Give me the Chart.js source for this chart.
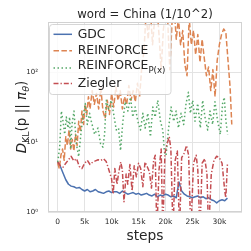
<!DOCTYPE html>
<html><head><meta charset="utf-8">
<script src="https://cdn.jsdelivr.net/npm/chart.js@4/dist/chart.umd.min.js"></script>
<style>html,body{margin:0;padding:0;background:#fff;}canvas{display:block;}</style>
</head><body>
<canvas id="c" width="251" height="251"></canvas>
<script>
const titleText = 'word = China (1/10^2)';
const xLabel = 'steps';
const xTicks = [0,5000,10000,15000,20000,25000,30000];
const xTickLabels = ['0','5k','10k','15k','20k','25k','30k'];
const yTicks = [1,10,100];
const yTickLabels = ['10⁰','10¹','10²'];
const seriesNames = ['GDC','REINFORCE','REINFORCE','Ziegler'];
const seriesSubs = ['','','P(x)',''];

const gdcSteps = [0,500,1000,1500,2000,2500,3000,3500,4000,4500,5000,5500,6000,6500,7000,7500,8000,8500,9000,9500,10000,10500,11000,11500,12000,12500,13000,13500,14000,14500,15000,15500,16000,16500,17000,17500,18000,18500,19000,19500,20000,20500,21000,21500,22000,22500,23000,23500,24000,24500,25000,25500,26000,26500,27000,27500,28000,28500,29000,29500,30000,30500,31000,31500];
const gdcValues = [5.2,4.5,3.6,2.9,2.5,2.35,2.3,2.2,2.25,2.1,2.0,2.1,1.95,2.0,2.1,1.95,1.9,1.85,1.95,2.0,1.9,1.95,1.95,1.85,2.0,1.9,1.8,1.85,1.9,1.8,1.85,1.75,1.8,1.85,1.75,1.7,1.8,1.65,1.75,1.7,1.8,1.75,1.65,1.7,1.6,2.7,2.0,1.8,1.7,1.65,1.6,1.65,1.7,1.6,1.65,1.55,1.6,1.5,1.45,1.35,1.45,1.5,1.45,1.58];

const reinfSteps = [0,300,600,900,1200,1500,1800,2100,2400,2700,3000,3300,3600,3900,4200,4500,4800,5100,5400,5700,6000,6400,6800,7200,7600,8000,8400,8800,9200,9600,10000,10400,10800,11200,11600,12000,12400,12800,13200,13600,14000,14400,14800,15200,15600,16000,16400,16800,17200,17600,18000,18400,18800,19200,19600,20000,20400,20800,21200,21600,22000,22400,22800,23200,23600,24000,24400,24800,25200,25600,26000,26400,26800,27200,27600,28000,28400,28800,29200,29600,30000,30400,30800,31200,31600,32000,32300];
const reinfValues = [5.0,4.2,6.5,8.0,5.5,12,9,15,8,11,7.5,13,9,20,14,28,18,35,25,45,30,55,35,50,30,60,28,22,40,25,50,32,62,40,55,30,45,35,65,40,55,38,70,45,120,200,700,300,800,250,600,900,350,110,400,800,600,110,500,900,300,600,250,400,130,90,600,250,400,180,350,140,300,160,90,120,55,110,45,150,250,350,420,380,150,60,18];

const reinfPxSteps = [0,370,680,990,1300,1600,1910,2220,2400,2650,3020,3460,3890,4380,4690,5120,5490,5920,6230,6850,7470,7960,8390,8700,9010,9440,9930,10370,10860,11290,11660,12090,12530,13020,13510,13940,14380,14870,15360,15800,16230,16720,17210,17650,18080,18570,19070,19500,19810,20110,20550,21040,21530,21970,22400,22890,23380,23820,24250,24620,25050,25480,25980,26470,26900,27330,27830,28260,28750,29180,29680,30170,30600,30910,31220,31530];
const reinfPxValues = [5.2,8.5,28,20,13,23,16,23,8,18,28,9.5,6.2,15,23,36,18,26,20,13,16,9.5,8.5,13,40,30,40,26,15,16,7.6,20,38,28,44,23,32,20,15,26,16,26,12,32,23,40,20,15,7.2,6.5,15,32,20,28,16,26,18,36,52,26,40,20,36,16,40,23,15,28,18,38,20,13,36,44,20,13];

const zieglerSteps = [0,500,1000,1500,2000,2500,3000,3500,4000,4500,5000,5500,6000,6500,7000,7500,8000,8500,9000,9500,10000,10300,10600,11000,11300,11700,12000,12300,12700,13000,13400,13800,14200,14600,15000,15400,15800,16200,16600,17000,17400,17800,18100,18400,18800,19200,19500,19900,20300,20700,21000,21400,21800,22200,22600,23000,23500,23900,24300,24700,25200,25700,26000,26400,26800,27300,27700,28000,28500,29000,29500,30000,30500,31000,31200,31500];
const zieglerValues = [5.2,4.6,4.4,5.0,5.6,6.3,5.4,5.8,4.5,4.2,5.0,5.5,4.8,5.2,5.4,5.6,5.5,5.8,5.3,4.0,3.0,1.8,4.2,2.5,3.6,5.2,4.0,1.4,3.5,2.5,4.8,2.0,4.6,3.2,5.0,4.2,2.3,5.2,4.5,3.8,2.2,5.5,6.5,0.5,4.0,8.0,0.5,7.0,9.5,12.0,8.0,0.5,5.5,7.5,0.5,6.0,7.0,9.0,6.5,0.5,5.0,6.5,4.0,0.5,5.0,5.8,3.5,0.5,3.5,5.5,6.3,6.0,5.0,2.0,1.6,5.0];

const colors = ['#4C72B0','#DD8452','#55A868','#C44E52'];
const dashes = [[],[5.5,2.4],[1.5,2.5],[5,2,1.3,2]];
const FONT = '"DejaVu Sans", sans-serif';

function pts(xs, ys){ return xs.map((x,i)=>({x:x, y:ys[i]})); }
const datasets = [
  {data: pts(gdcSteps, gdcValues), order: 3},
  {data: pts(reinfSteps, reinfValues), order: 2},
  {data: pts(reinfPxSteps, reinfPxValues), order: 1},
  {data: pts(zieglerSteps, zieglerValues), order: 0}
].map((d,i)=>Object.assign(d,{label: seriesNames[i]+seriesSubs[i], borderColor: colors[i], backgroundColor: colors[i], borderWidth:1.5, borderDash: dashes[i], pointRadius:0, fill:false, tension:0, borderCapStyle:'butt', borderJoinStyle:'round'}));

const decor = {
  id:'decor',
  afterDatasetsDraw(chart){
    const ctx = chart.ctx, a = chart.chartArea;
    ctx.save();
    ctx.strokeStyle = '#d2d2d2'; ctx.lineWidth = 1;
    ctx.strokeRect(Math.round(a.left)+0.5, Math.round(a.top)+0.5, Math.round(a.right-a.left)-1, Math.round(a.bottom-a.top)-1);
    const bx=49.5, by=24.5, bw=121.5, bh=70, r=3;
    ctx.beginPath();
    ctx.moveTo(bx+r,by); ctx.lineTo(bx+bw-r,by); ctx.quadraticCurveTo(bx+bw,by,bx+bw,by+r);
    ctx.lineTo(bx+bw,by+bh-r); ctx.quadraticCurveTo(bx+bw,by+bh,bx+bw-r,by+bh);
    ctx.lineTo(bx+r,by+bh); ctx.quadraticCurveTo(bx,by+bh,bx,by+bh-r);
    ctx.lineTo(bx,by+r); ctx.quadraticCurveTo(bx,by,bx+r,by); ctx.closePath();
    ctx.fillStyle = 'rgba(255,255,255,0.8)'; ctx.fill();
    ctx.strokeStyle = 'rgba(204,204,204,0.8)'; ctx.lineWidth=1; ctx.stroke();
    const handleY = [34.3, 50.7, 68, 83.5];
    const textY = [34.3, 50.7, 66, 83.5];
    for (let i=0;i<4;i++){
      ctx.beginPath();
      ctx.setLineDash(dashes[i]);
      ctx.strokeStyle = colors[i]; ctx.lineWidth = 1.5; ctx.lineCap='butt';
      ctx.moveTo(53.5, handleY[i]); ctx.lineTo(72, handleY[i]); ctx.stroke();
      ctx.setLineDash([]);
      ctx.fillStyle = '#262626';
      ctx.font = '12.4px ' + FONT; ctx.textAlign='left'; ctx.textBaseline='middle';
      ctx.fillText(seriesNames[i], 77.7, textY[i]);
      if (seriesSubs[i]){
        const w = ctx.measureText(seriesNames[i]).width;
        ctx.font = '8.6px ' + FONT;
        ctx.fillText(seriesSubs[i], 77.7 + w, textY[i] + 4.5);
      }
    }
    ctx.restore();
  },
  afterDraw(chart){
    const ctx = chart.ctx, a = chart.chartArea;
    ctx.save();
    ctx.fillStyle = '#262626';
    ctx.font = '11.7px ' + FONT; ctx.textAlign='center'; ctx.textBaseline='middle';
    ctx.fillText(titleText, (a.left+a.right)/2, 15);
    ctx.font = '13.8px ' + FONT;
    ctx.fillText(xLabel, (a.left+a.right)/2, 236);
    const S = 13.5, s = 9.5;
    const pieces = [
      {t:'D', f:'italic '+S+'px '+FONT, dy:0},
      {t:'KL', f:s+'px '+FONT, dy:3},
      {t:'(p || ', f:S+'px '+FONT, dy:0},
      {t:'π', f:'italic '+S+'px '+FONT, dy:0},
      {t:'θ', f:'italic '+s+'px '+FONT, dy:3},
      {t:')', f:S+'px '+FONT, dy:0}
    ];
    let tw = 0;
    pieces.forEach(p=>{ctx.font=p.f; p.w=ctx.measureText(p.t).width; tw+=p.w;});
    ctx.translate(26, (a.top+a.bottom)/2);
    ctx.rotate(-Math.PI/2);
    ctx.textAlign='left'; ctx.textBaseline='alphabetic';
    let x = -tw/2;
    pieces.forEach(p=>{ctx.font=p.f; ctx.fillText(p.t, x, p.dy); x+=p.w;});
    ctx.restore();
  }
};

new Chart(document.getElementById('c'), {
  type:'line',
  data:{datasets: datasets},
  plugins:[decor],
  options:{
    responsive:false, animation:false, devicePixelRatio:1,
    layout:{padding:{top:22,right:9,left:0,bottom:0}},
    plugins:{legend:{display:false}, title:{display:false}, tooltip:{enabled:false}},
    scales:{
      x:{type:'linear', min:-1800, max:34200,
        afterBuildTicks:(s)=>{ s.ticks = xTicks.map(v=>({value:v})); },
        afterFit:(s)=>{ s.height = 39; },
        grid:{color:'#e3e3e3', lineWidth:1, drawTicks:false},
        border:{display:false},
        ticks:{padding:6, color:'#262626', maxRotation:0, autoSkip:false, font:{family:'DejaVu Sans', size:7.5},
          callback:(v,i)=>xTickLabels[i]}
      },
      y:{type:'logarithmic', min:1, max:530,
        afterBuildTicks:(s)=>{ s.ticks = yTicks.map(v=>({value:v})); },
        afterFit:(s)=>{ s.width = 48; },
        grid:{color:'#e3e3e3', lineWidth:1, drawTicks:false},
        border:{display:false},
        ticks:{padding:10, color:'#262626', autoSkip:false, font:{family:'DejaVu Sans', size:7},
          callback:(v,i)=>yTickLabels[i]}
      }
    }
  }
});
</script>
</body></html>
